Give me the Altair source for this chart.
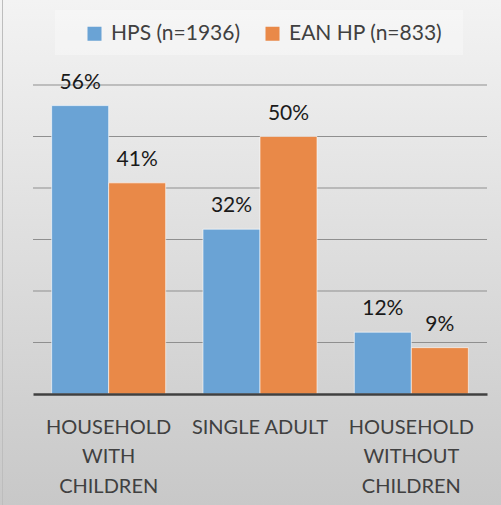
import altair as alt
import pandas as pd

categories = ["HOUSEHOLD|WITH|CHILDREN", "SINGLE ADULT", "HOUSEHOLD|WITHOUT|CHILDREN"]
series = ["HPS (n=1936)", "EAN HP (n=833)"]
hps = [0.56, 0.32, 0.12]
ean = [0.41, 0.50, 0.09]
colors = ["#6aa3d5", "#e98948"]
grid_values = [0.1, 0.2, 0.3, 0.4, 0.5, 0.6]

rows = []
for c, a, b in zip(categories, hps, ean):
    rows.append({"cat": c, "series": series[0], "value": a, "label": f"{round(a*100)}%"})
    rows.append({"cat": c, "series": series[1], "value": b, "label": f"{round(b*100)}%"})
df = pd.DataFrame(rows)
one = pd.DataFrame({"a": [0]})

bg = alt.Chart(one).mark_rect(
    fill=alt.Gradient(
        gradient="linear",
        stops=[alt.GradientStop(color="#f3f3f3", offset=0),
               alt.GradientStop(color="#c8c8c8", offset=1)],
        x1=0, x2=0, y1=0, y2=1,
    ),
    clip=False,
).encode(x=alt.value(-33), x2=alt.value(468), y=alt.value(-85), y2=alt.value(420))

border = alt.Chart(one).mark_rule(color="#bdbdbd", strokeWidth=1, clip=False).encode(
    x=alt.value(-30.5), y=alt.value(-85), y2=alt.value(420)
)

legend_box = alt.Chart(one).mark_rect(fill="#ffffff", opacity=0.3, clip=False).encode(
    x=alt.value(22), x2=alt.value(430), y=alt.value(-75), y2=alt.value(-30)
)

yscale = alt.Scale(domain=[0, 0.6], nice=False)

grid = alt.Chart(pd.DataFrame({"v": grid_values})).mark_rule(color="#8f8f8f", strokeWidth=1).encode(
    y=alt.Y("v:Q", scale=yscale, axis=None)
)

xenc = alt.X("cat:N", sort=categories,
             scale=alt.Scale(paddingInner=0, paddingOuter=0),
             axis=alt.Axis(title=None, labelExpr="split(datum.value, '|')",
                           labelFont="Lato", labelFontSize=20, labelColor="#404040",
                           labelLineHeight=29.5, labelPadding=23, labelAngle=0,
                           ticks=False, domainColor="#404040", domainWidth=2.5,
                           labelBaseline="top", zindex=1))
yenc = alt.Y("value:Q", scale=yscale, axis=None)
xoff = alt.XOffset("series:N", sort=series, scale=alt.Scale(paddingOuter=0.327, paddingInner=0))

bars = alt.Chart(df).mark_bar(stroke="#ffffff", strokeOpacity=0.6, strokeWidth=1).encode(
    x=xenc, y=yenc, xOffset=xoff,
    color=alt.Color("series:N", sort=series, scale=alt.Scale(domain=series, range=colors),
                    legend=alt.Legend(title=None, orient="none", direction="horizontal",
                                      legendX=51, legendY=-62,
                                      symbolType="square", symbolSize=196, symbolStrokeWidth=0,
                                      labelFont="Lato", labelFontSize=21, labelColor="#404040",
                                      labelOffset=6, columnPadding=21, padding=0)),
)

texts = alt.Chart(df).mark_text(font="Lato", fontSize=21, color="#1a1a1a", dy=-17,
                                baseline="alphabetic").encode(
    x=alt.X("cat:N", sort=categories), y=alt.Y("value:Q", scale=yscale),
    xOffset=alt.XOffset("series:N", sort=series),
    text="label:N",
)

chart = alt.layer(bg, border, legend_box, grid, bars, texts).properties(
    width=454, height=309,
    autosize=alt.AutoSizeParams(type="none"),
    padding={"left": 33, "top": 85, "right": 14, "bottom": 111},
).configure_view(stroke=None).configure(background="#ffffff")

chart.save("out.html", embed_options={"renderer": "svg", "actions": False})
